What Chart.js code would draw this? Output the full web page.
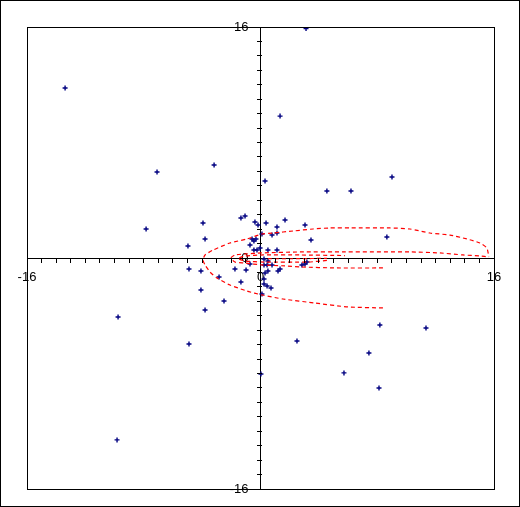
<!DOCTYPE html>
<html>
<head>
<meta charset="utf-8">
<script src="https://cdn.jsdelivr.net/npm/chart.js@4.4.1/dist/chart.umd.min.js"></script>
<style>
html,body{margin:0;padding:0;background:#fff;}
canvas{display:block;}
</style>
</head>
<body>
<canvas id="c" width="520" height="507"></canvas>
<script>
// Axis range, minor tick step and labelled ticks
const axisMin = -16;
const axisMax = 16;
const minorStep = 1;
const labelledTicks = [-16, 0, 16];

// Blue scatter points
const pointsX = [-13.39,3.12,1.34,-7.09,-3.18,0.31,4.55,6.20,9.01,-7.84,-3.94,-4.97,-3.80,-1.34,-1.06,-0.38,-0.17,0.38,1.13,1.68,3.05,0.10,0.79,1.13,8.66,3.46,-0.72,-0.58,-0.45,-0.31,-0.45,-0.24,-0.03,0.51,1.13,0.24,0.51,0.45,0.79,0.24,-0.72,-1.75,-0.99,0.51,1.20,1.34,0.31,3.18,3.05,2.84,-4.90,-4.08,-2.84,-1.34,-4.08,-2.50,0.24,0.24,0.45,0.72,0.10,-9.76,-9.83,-4.90,-3.80,2.50,5.72,7.43,8.18,8.12,11.34,0.03];
const pointsY = [11.77,15.90,9.83,5.96,6.44,5.33,4.64,4.64,5.61,2.01,2.42,0.83,1.32,2.77,2.91,2.49,2.29,2.42,2.15,2.63,2.29,1.66,1.59,1.73,1.45,1.25,0.90,1.32,1.18,1.32,0.55,0.55,0.69,0.55,0.55,-0.07,-0.21,-0.48,-0.48,-0.48,-0.42,-0.76,-0.83,-0.90,-0.90,-0.76,-1.04,-0.28,-0.42,-0.48,-0.76,-0.90,-1.32,-1.66,-2.22,-2.98,-1.45,-1.80,-1.94,-2.08,-2.49,-4.09,-12.60,-5.96,-3.60,-5.75,-7.96,-6.58,-4.64,-9.00,-4.85,-8.03];

// Red dotted curves
const curve1X = [8.39,5.99,3.73,1.54,0.10,-0.92,-2.09,-2.98,-3.46,-3.80,-3.94,-3.80,-3.25,-2.09,-0.92,0.10,0.86,2.23,3.60,4.76,6.13,8.87,10.24,11.61,12.98,14.14,15.03,15.51,15.65];
const curve1Y = [-3.46,-3.39,-3.12,-2.84,-2.56,-2.29,-1.87,-1.39,-0.97,-0.48,-0.14,0.21,0.55,1.04,1.32,1.66,1.73,1.87,2.01,2.08,2.08,2.08,2.01,1.73,1.59,1.32,1.04,0.69,0.07];
const curve2X = [8.39,5.24,2.71,1.68,0.10,-1.06,-1.75,-2.02,-1.75,-1.06,0.10,2.71,5.79,10.24,12.29,13.87,15.03,15.65];
const curve2Y = [-0.69,-0.69,-0.62,-0.55,-0.48,-0.35,-0.28,0.00,0.21,0.28,0.35,0.42,0.42,0.42,0.35,0.21,0.14,0.07];
const curve3X = [4.55,3.25,0.31,-1.06,-1.54,-1.06,0.17,2.71,5.79];
const curve3Y = [-0.17,-0.28,-0.28,-0.21,-0.03,0.14,0.21,0.21,0.17];
const curve4X = [0.51,2.50,4.55];
const curve4Y = [-0.05,-0.05,-0.02];

function pairs(xs, ys){ return xs.map((x,i)=>({x:x, y:ys[i]})); }

const curveStyle = {
  showLine: true, borderColor: '#ff0000', borderWidth: 1.2, borderDash: [4,3],
  pointRadius: 0, fill: false, tension: 0.2
};

const frame = {
  id: 'frame',
  afterDraw(chart){
    const ctx = chart.ctx, a = chart.chartArea;
    const xs = chart.scales.x, ys = chart.scales.y;
    ctx.save();
    ctx.strokeStyle = '#000';
    ctx.lineWidth = 1;
    ctx.strokeRect(Math.round(a.left)+0.5, Math.round(a.top)+0.5, Math.round(a.right-a.left), Math.round(a.bottom-a.top));
    ctx.strokeRect(0.5, 0.5, chart.width-1, chart.height-1);
    // minor tick marks on the crossing axes
    const axisY = Math.round(ys.getPixelForValue(0));
    const axisX = Math.round(xs.getPixelForValue(0));
    ctx.beginPath();
    for (let v = axisMin; v <= axisMax; v += minorStep) {
      const px = Math.floor(xs.getPixelForValue(v)) + 0.5;
      ctx.moveTo(px, axisY); ctx.lineTo(px, axisY + 5);
      const py = Math.floor(ys.getPixelForValue(v)) + 0.5;
      ctx.moveTo(axisX - 4, py); ctx.lineTo(axisX + 1, py);
    }
    ctx.stroke();
    ctx.restore();
  }
};

const tickFmt = v => labelledTicks.includes(v) ? String(v) : '';
const noPad = s => { s.paddingTop = 0; s.paddingBottom = 0; s.paddingLeft = 0; s.paddingRight = 0; };

new Chart(document.getElementById('c'), {
  type: 'scatter',
  data: {
    datasets: [
      Object.assign({data: pairs(curve1X, curve1Y)}, curveStyle),
      Object.assign({data: pairs(curve2X, curve2Y)}, curveStyle),
      Object.assign({data: pairs(curve3X, curve3Y)}, curveStyle),
      Object.assign({data: pairs(curve4X, curve4Y)}, curveStyle),
      {
        data: pairs(pointsX, pointsY),
        pointStyle: 'cross', pointRadius: 2.5, borderColor: '#000080', backgroundColor: '#000080',
        borderWidth: 1.4, showLine: false
      }
    ]
  },
  options: {
    responsive: false,
    animation: false,
    devicePixelRatio: 1,
    layout: { padding: { left: 27, top: 27, right: 26, bottom: 18 } },
    plugins: { legend: { display: false }, tooltip: { enabled: false } },
    scales: {
      x: {
        type: 'linear', position: 'center', min: axisMin, max: axisMax, afterFit: noPad,
        grid: { drawOnChartArea: false, drawTicks: false, color: '#000' },
        border: { color: '#000', width: 1 },
        ticks: { stepSize: minorStep, autoSkip: false, maxRotation: 0, minRotation: 0, padding: 12,
                 color: '#000', font: { family: 'Liberation Sans, Arial', size: 13 }, callback: tickFmt }
      },
      y: {
        type: 'linear', position: 'center', min: axisMin, max: axisMax, afterFit: noPad,
        grid: { drawOnChartArea: false, drawTicks: false, color: '#000' },
        border: { color: '#000', width: 1 },
        ticks: { stepSize: minorStep, autoSkip: false, padding: 12,
                 color: '#000', font: { family: 'Liberation Sans, Arial', size: 13 }, callback: tickFmt }
      }
    }
  },
  plugins: [frame]
});
</script>
</body>
</html>
